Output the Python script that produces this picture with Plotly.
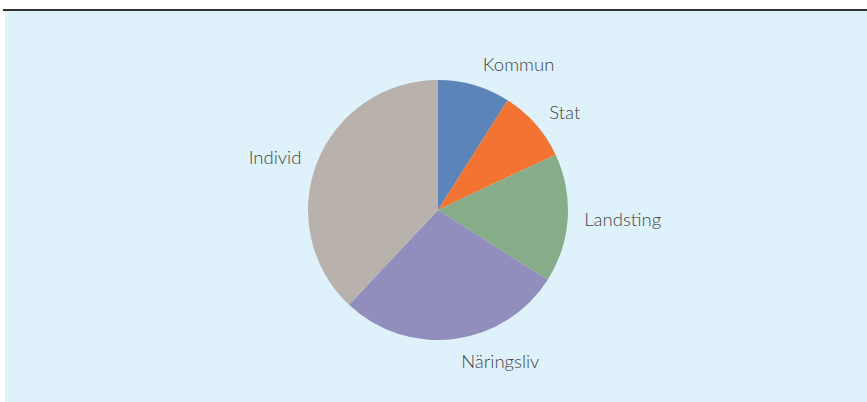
import plotly.graph_objects as go

labels = ["Kommun", "Stat", "Landsting", "Näringsliv", "Individ"]
values = [9, 9, 16, 28, 38]
colors = ["#5b84b9", "#f37432", "#86ad87", "#918ebd", "#b8b1ac"]

W, H = 867, 402
cx, cy, r = 438, 210, 130
r_lab = 141


def dom(rad):
    return dict(x=[(cx - rad) / W, (cx + rad) / W], y=[(H - cy - rad) / H, (H - cy + rad) / H])


fig = go.Figure()
fig.add_trace(go.Pie(
    labels=labels, values=values, sort=False, direction="clockwise", rotation=0,
    marker=dict(colors=colors, line=dict(width=0)),
    textinfo="none", showlegend=False, hoverinfo="label+value",
    domain=dom(r),
))
fig.add_trace(go.Pie(
    labels=labels, values=values, sort=False, direction="clockwise", rotation=0,
    marker=dict(colors=["rgba(0,0,0,0)"] * len(values), line=dict(width=0)),
    textinfo="label", textposition="outside",
    textfont=dict(family="Lato", size=18.5, color="#444444", weight=300),
    showlegend=False, hoverinfo="skip",
    domain=dom(r_lab),
))

fig.update_layout(
    width=W, height=H, margin=dict(l=0, r=0, t=0, b=0),
    paper_bgcolor="white", plot_bgcolor="white",
    shapes=[
        dict(type="rect", xref="paper", yref="paper", x0=5 / W, x1=1, y0=0, y1=(H - 10) / H,
             fillcolor="#dff2fc", line=dict(width=0), layer="below"),
        dict(type="line", xref="paper", yref="paper", x0=3 / W, x1=1, y0=(H - 10) / H, y1=(H - 10) / H,
             line=dict(color="#333333", width=2)),
    ],
)

fig.write_html("out.html", config={"displayModeBar": False},
               post_script="document.body.style.margin='0';")
